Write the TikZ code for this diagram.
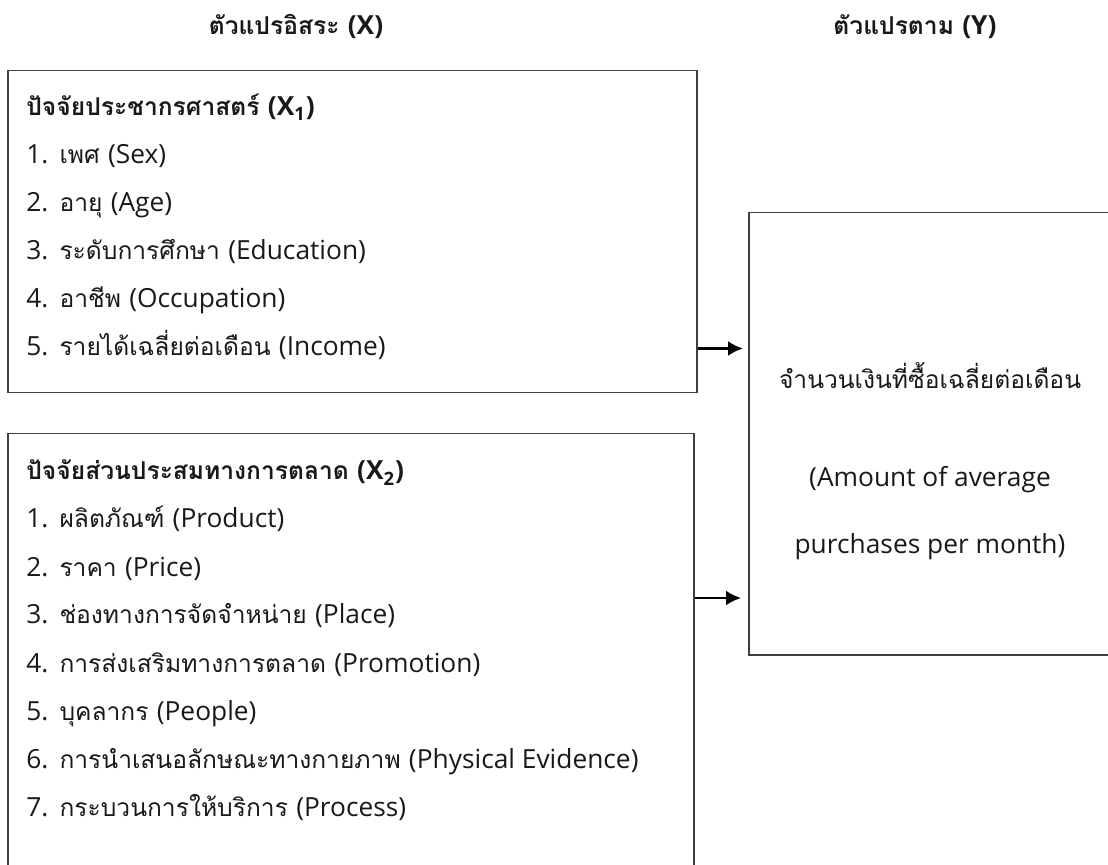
\documentclass[tikz,border=0pt]{standalone}
\usepackage{fontspec}
\setmainfont{Loma}[Script=Thai]
\newfontfamily\lat{Open Sans}[Scale=1.07]
\usetikzlibrary{arrows.meta,positioning,calc}

\begin{document}
\begin{tikzpicture}[x=0.5pt,y=-0.5pt, every node/.style={font=\fontsize{12.3}{14}\selectfont, inner sep=0pt, text=black!90}]
    \path[use as bounding box, clip] (0,0) rectangle (1108,865);
    % headings
    \node[font=\fontsize{12.3}{14}\selectfont\bfseries, anchor=base] (headx) at (296,35) {ตัวแปรอิสระ {\lat(X)}};
    \node[font=\fontsize{12.3}{14}\selectfont\bfseries, anchor=base] (heady) at (915,35) {ตัวแปรตาม {\lat(Y)}};
    % boxes
    \node[draw=black!75, line width=0.75pt, anchor=north west, minimum width=344.5pt, minimum height=161pt] (xone) at (7,70) {};
    \node[draw=black!75, line width=0.75pt, anchor=north west, minimum width=343pt, minimum height=240pt] (xtwo) at (7,433) {};
    \node[draw=black!75, line width=0.75pt, anchor=north west, minimum width=195pt, minimum height=221pt] (ybox) at (748,212) {};
    % X1
    \node[font=\fontsize{12.3}{14}\selectfont\bfseries, anchor=base west] (xone-t) at (26,116) {ปัจจัยประชากรศาสตร์ {\lat(X\textsubscript{1})}};
    \foreach \th/\en [count=\i] in {เพศ/Sex, อายุ/Age, ระดับการศึกษา/Education, อาชีพ/Occupation, รายได้เฉลี่ยต่อเดือน/Income}
        \node[anchor=base west] (xone-\i) at (26,{116+48*\i}) {{\lat\i.} \th{} {\lat(\en)}};
    % X2
    \node[font=\fontsize{12.3}{14}\selectfont\bfseries, anchor=base west] (xtwo-t) at (26,480) {ปัจจัยส่วนประสมทางการตลาด {\lat(X\textsubscript{2})}};
    \foreach \th/\en [count=\i] in {ผลิตภัณฑ์/Product, ราคา/Price, ช่องทางการจัดจำหน่าย/Place, การส่งเสริมทางการตลาด/Promotion, บุคลากร/People, การนำเสนอลักษณะทางกายภาพ/Physical Evidence, กระบวนการให้บริการ/Process}
        \node[anchor=base west] (xtwo-\i) at (26,{480+48*\i}) {{\lat\i.} \th{} {\lat(\en)}};
    % Y
    \node[anchor=base] (y-1) at (930,389) {จำนวนเงินที่ซื้อเฉลี่ยต่อเดือน};
    \node[anchor=base, font=\fontsize{12.3}{14}\selectfont\lat] (y-2) at (930,487) {(Amount of average};
    \node[anchor=base, font=\fontsize{12.3}{14}\selectfont\lat] (y-3) at (930,553) {purchases per month)};
    % arrows
    \draw[-{Latex[length=7.5pt,width=7.5pt]}, line width=1.2pt, shorten >=2.5pt] ([yshift=22.5pt]xone.south east) -- ([yshift=22.5pt]xone.south east -| ybox.west);
    \draw[-{Latex[length=7.5pt,width=7.5pt]}, line width=1.2pt, shorten >=3.5pt] ([yshift=-82.5pt]xtwo.north east) -- ([yshift=-82.5pt]xtwo.north east -| ybox.west);
\end{tikzpicture}
\end{document}
